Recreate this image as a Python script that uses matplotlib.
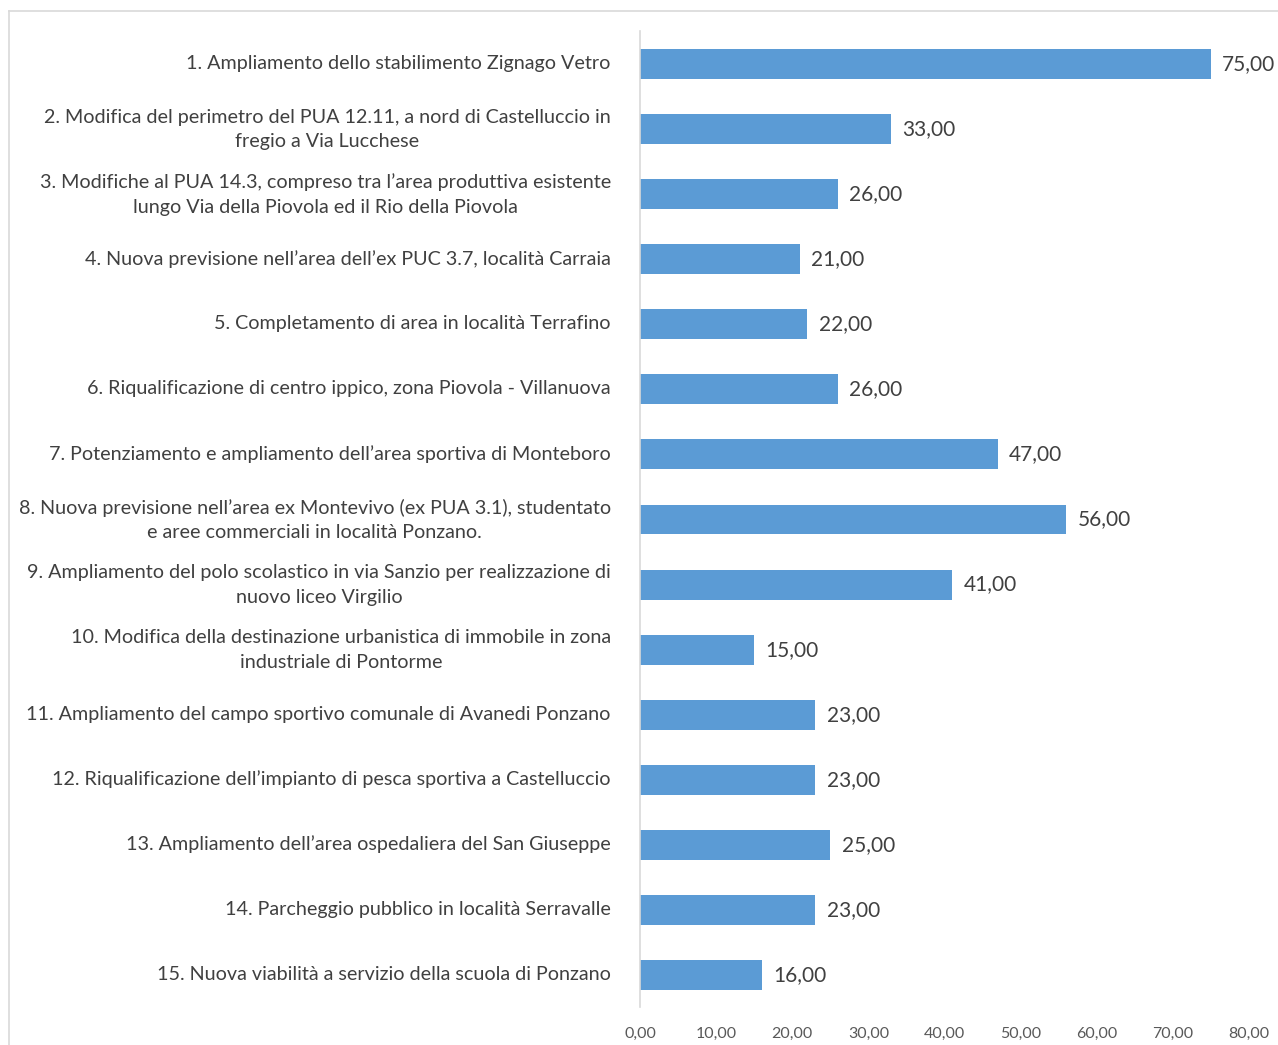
import matplotlib
import matplotlib.pyplot as plt
from matplotlib.ticker import FuncFormatter
from matplotlib.transforms import ScaledTranslation
matplotlib.use('Agg')

labels = [
    "1. Ampliamento dello stabilimento Zignago Vetro",
    "2. Modifica del perimetro del PUA 12.11, a nord di Castelluccio in\nfregio a Via Lucchese",
    "3. Modifiche al PUA 14.3, compreso tra l\u2019area produttiva esistente\nlungo Via della Piovola ed il Rio della Piovola",
    "4. Nuova previsione nell\u2019area dell\u2019ex PUC 3.7, località Carraia",
    "5. Completamento di area in località Terrafino",
    "6. Riqualificazione di centro ippico, zona Piovola - Villanuova",
    "7. Potenziamento e ampliamento dell\u2019area sportiva di Monteboro",
    "8. Nuova previsione nell\u2019area ex Montevivo (ex PUA 3.1), studentato\ne aree commerciali in località Ponzano.",
    "9. Ampliamento del polo scolastico in via Sanzio per realizzazione di\nnuovo liceo Virgilio",
    "10. Modifica della destinazione urbanistica di immobile in zona\nindustriale di Pontorme",
    "11. Ampliamento del campo sportivo comunale di Avanedi Ponzano",
    "12. Riqualificazione dell\u2019impianto di pesca sportiva a Castelluccio",
    "13. Ampliamento dell\u2019area ospedaliera del San Giuseppe",
    "14. Parcheggio pubblico in località Serravalle",
    "15. Nuova viabilità a servizio della scuola di Ponzano",
]
values = [75, 33, 26, 21, 22, 26, 47, 56, 41, 15, 23, 23, 25, 23, 16]
xticks = [0, 10, 20, 30, 40, 50, 60, 70, 80]

def it_fmt(v, pos=None):
    return f"{v:.2f}".replace('.', ',')

plt.rcParams['font.family'] = ['Lato', 'DejaVu Sans']

fig = plt.figure(figsize=(12.78, 10.45), dpi=100)
ax = fig.add_axes([0.5008, 0.0359, 0.4765, 0.934])

ypos = list(range(len(labels)))
bars = ax.barh(ypos, values, height=0.46, color='#5B9BD5')
for b, v in zip(bars, values):
    ax.text(b.get_width() + 1.5, b.get_y() + b.get_height() / 2, it_fmt(v),
            va='center', ha='left', fontsize=15, color='#404040')

ax.set_ylim(len(labels) - 0.5, -0.5)
ax.set_xlim(0, 80)
ax.set_yticks(ypos)
ax.set_yticklabels(labels, fontsize=14.2, color='#404040', multialignment='center',
                   linespacing=1.55)
ax.set_xticks(xticks)
ax.xaxis.set_major_formatter(FuncFormatter(it_fmt))
ax.tick_params(axis='x', labelsize=11.5, colors='#595959', length=0, pad=14)
ax.tick_params(axis='y', length=0, pad=21)
# nudge category labels up a little, like the original
for lab in ax.get_yticklabels():
    shift = 0.05 if '\n' in lab.get_text() else 0.02
    lab.set_transform(lab.get_transform() + ScaledTranslation(0, shift, fig.dpi_scale_trans))
for s in ['top', 'right', 'bottom']:
    ax.spines[s].set_visible(False)
ax.spines['left'].set_color('#D9D9D9')
ax.spines['left'].set_linewidth(1.2)

# chart area border (top and left visible)
fig.add_artist(plt.Line2D([9 / 1278, 1.0], [1 - 11 / 1045, 1 - 11 / 1045],
                          transform=fig.transFigure, color='#D9D9D9', lw=1.2))
fig.add_artist(plt.Line2D([9 / 1278, 9 / 1278], [0, 1 - 11 / 1045],
                          transform=fig.transFigure, color='#D9D9D9', lw=1.2))

plt.savefig('out.png', dpi=100)
plt.close()
